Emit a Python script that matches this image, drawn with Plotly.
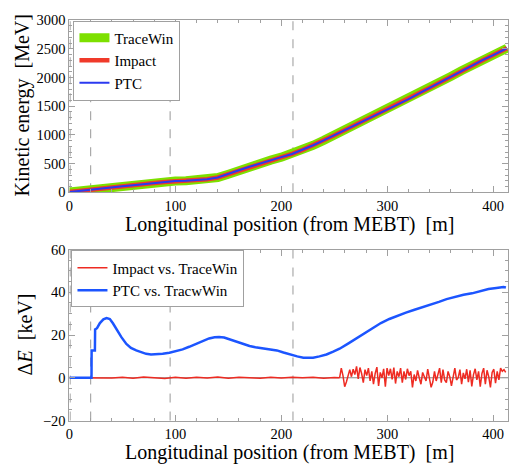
import plotly.graph_objects as go

# ---------------- data ----------------
# Top panel: kinetic energy [MeV] vs longitudinal position [m]
pos_energy = [0, 10, 20, 30, 40, 50, 60, 70, 80, 90, 100, 110, 120, 130, 140, 150,
              160, 170, 180, 190, 200, 210, 220, 230, 240, 250, 260, 270, 280, 290,
              300, 310, 320, 330, 340, 350, 360, 370, 380, 390, 400, 410, 413]
energy_tracewin = [3.6, 25, 50, 68, 85, 103, 121, 140, 160, 180, 195, 200, 208, 226, 258, 315,
                   383, 445, 505, 560, 612, 668, 740, 820, 905, 995, 1085, 1175, 1260, 1355,
                   1448, 1530, 1625, 1725, 1822, 1920, 2020, 2118, 2213, 2303, 2393, 2483, 2512]
energy_impact = list(energy_tracewin)
energy_ptc = list(energy_tracewin)

# Bottom panel: energy differences [keV]
pos_ptc = [0, 20.8, 20.9, 24.0, 24.2, 26, 28.7, 32, 35, 38.1, 41, 44.3, 49, 53.7, 58, 63,
           68, 72.4, 77, 81.8, 88, 94.3, 100, 106.8, 113, 119.3, 125, 131.8, 137, 141.2,
           146, 150.5, 157, 163, 170, 175.5, 185, 195.8, 202, 208, 215, 220.8, 230, 236,
           242.6, 249, 255, 263, 270.7, 278, 286.4, 294, 302, 310, 317.6, 325, 333.2,
           341, 348.8, 356, 364.4, 372, 380, 388, 395.6, 403, 409.7, 412]
de_ptc = [0, 0, 12.8, 12.8, 22.6, 23.2, 25.6, 27.3, 27.9, 27.5, 25.5, 22.6, 19.0, 15.8, 14.0, 12.8,
          11.8, 11.2, 10.9, 10.9, 11.2, 11.7, 12.4, 13.3, 14.5, 15.8, 17.2, 18.4, 19.0, 19.1,
          18.8, 18.0, 16.9, 15.8, 14.9, 14.3, 13.6, 12.8, 11.8, 10.9, 10.0, 9.4, 9.4, 10.0,
          10.9, 12.2, 13.6, 16.0, 18.4, 20.9, 23.4, 25.6, 27.5, 29.1, 30.5, 31.7, 32.9,
          34.2, 35.5, 36.8, 38.0, 38.8, 39.5, 40.5, 41.5, 42.0, 42.5, 42.2]

# Impact vs TraceWin: quiet part (explicit positions)
pos_impact_quiet = [0, 20, 30, 40, 50, 60, 70, 80, 90, 100, 110, 120, 130, 140, 150, 160, 170,
                    180, 190, 200, 210, 220, 230, 240, 250, 255]
de_impact_quiet = [0, 0, 0.2, -0.1, 0.3, -0.2, 0.4, 0.1, -0.3, 0.2, -0.2, 0.3, -0.1, 0.4, -0.2,
                   0.2, 0.1, -0.2, 0.3, -0.1, 0.2, 0.0, 0.3, -0.2, 0.1, 0.0]
# Impact vs TraceWin: noisy part, sampled every 1.6 m starting at 255 m
impact_noisy_start = 255.0
impact_noisy_step = 1.6
de_impact_noisy = [0.0, 4.5, 1.0, -4.2, -2.0, 1.5, 3.8, 0.5, 4.0, 1.5,
                   5.3, -0.5, 4.8, 2.0, -2.3, 3.8, 1.0, 4.5, -1.5, 3.0,
                   -3.0, 2.0, 5.0, -3.8, 2.5, 0.0, 4.2, -4.2, 4.5, 1.0,
                   4.2, -0.8, 4.8, -2.7, 3.0, 0.5, 4.5, -2.3, 3.0, -0.8,
                   4.2, 1.0, 3.0, -4.5, 1.5, -1.5, 3.5, 0.0, -3.0, 2.5,
                   0.3, -1.5, 4.0, 0.0, -4.5, -2.0, 3.0, -1.5, 2.0, 4.5,
                   -2.3, 3.8, -1.0, -2.3, 3.0, 0.5, -3.8, 0.0, 4.5, -1.0,
                   0.0, 3.8, -3.0, 2.3, -0.5, 4.0, -2.0, 3.5, -4.0, 1.5,
                   4.2, -1.0, 3.0, -4.2, 2.0, 4.5, -3.0, 3.5, 0.5, -4.5,
                   2.5, 4.0, -2.5, 3.0, -1.0, 4.5, 3.0, 3.8, 2.5]

section_marks = [0.6, 20, 95, 211]
x_ticks = [0, 100, 200, 300, 400]

# ---------------- figure ----------------
W, H = 510, 472
def px_x(p):
    return p / W
def px_y(p):
    return 1 - p / H

SERIF = "Liberation Serif, Times New Roman, serif"
FRAME = "#a0a0a0"

fig = go.Figure()

fig.add_trace(go.Scatter(x=pos_energy, y=energy_tracewin, mode="lines", name="TraceWin",
                         line=dict(color="#7de000", width=9), xaxis="x", yaxis="y",
                         legend="legend"))
fig.add_trace(go.Scatter(x=pos_energy, y=energy_impact, mode="lines", name="Impact",
                         line=dict(color="#f03a2a", width=4.5), xaxis="x", yaxis="y",
                         legend="legend"))
fig.add_trace(go.Scatter(x=pos_energy, y=energy_ptc, mode="lines", name="PTC",
                         line=dict(color="#2b3af0", width=2), xaxis="x", yaxis="y",
                         legend="legend"))

fig.add_trace(go.Scatter(x=pos_impact_quiet, y=de_impact_quiet, mode="lines",
                         name="Impact vs. TraceWin", legendgroup="imp",
                         line=dict(color="#ee2b22", width=1.5), xaxis="x2", yaxis="y2",
                         legend="legend2"))
fig.add_trace(go.Scatter(x0=impact_noisy_start, dx=impact_noisy_step, y=de_impact_noisy,
                         mode="lines", name="Impact vs. TraceWin", legendgroup="imp",
                         showlegend=False,
                         line=dict(color="#ee2b22", width=1.5), xaxis="x2", yaxis="y2",
                         legend="legend2"))
fig.add_trace(go.Scatter(x=pos_ptc, y=de_ptc, mode="lines", name="PTC vs. TracwWin",
                         line=dict(color="#1c55ff", width=2.5), xaxis="x2", yaxis="y2",
                         legend="legend2"))

xdom = [px_x(66), px_x(508)]
axis_common = dict(showline=True, linecolor=FRAME, linewidth=1, mirror="allticks",
                   ticks="inside", ticklen=6, tickcolor=FRAME, showgrid=False, zeroline=False,
                   tickfont=dict(family=SERIF, size=14.5, color="black"))

fig.update_layout(
    width=W, height=H, margin=dict(l=0, r=0, t=0, b=0),
    paper_bgcolor="white", plot_bgcolor="white",
    font=dict(family=SERIF, color="black"),
    xaxis=dict(domain=xdom, range=[0, 414], tickvals=x_ticks, anchor="y",
               minor=dict(dtick=20, tick0=0, ticks="inside", ticklen=3, tickcolor=FRAME),
               **axis_common),
    yaxis=dict(domain=[px_y(190.7), px_y(12.7)], range=[0, 3000], dtick=500, anchor="x",
               minor=dict(dtick=100, ticks="inside", ticklen=3, tickcolor=FRAME),
               **axis_common),
    xaxis2=dict(domain=xdom, range=[0, 414], tickvals=x_ticks, anchor="y2",
                minor=dict(dtick=20, tick0=0, ticks="inside", ticklen=3, tickcolor=FRAME),
                **axis_common),
    yaxis2=dict(domain=[px_y(427), px_y(250)], range=[-20, 60], dtick=20, anchor="x2",
                minor=dict(dtick=5, ticks="inside", ticklen=3, tickcolor=FRAME),
                **axis_common),
    legend=dict(x=px_x(70), y=px_y(13), xanchor="left", yanchor="top",
                bgcolor="white", bordercolor=FRAME, borderwidth=1,
                font=dict(family=SERIF, size=15, color="black"),
                itemwidth=30, tracegroupgap=0),
    legend2=dict(x=px_x(68), y=px_y(251), xanchor="left", yanchor="top",
                 bgcolor="white", bordercolor=FRAME, borderwidth=1,
                 font=dict(family=SERIF, size=15, color="black"),
                 itemwidth=30, tracegroupgap=0),
    showlegend=True,
)

# dashed section markers
for xv in section_marks:
    for xr, yr in (("x", "y domain"), ("x2", "y2 domain")):
        fig.add_shape(type="line", xref=xr, yref=yr, x0=xv, x1=xv, y0=0, y1=1,
                      line=dict(color="#999999", width=1, dash="dash"), layer="below")
# zero axis in bottom panel
fig.add_shape(type="line", xref="x2 domain", yref="y2", x0=0, x1=1, y0=0, y1=0,
              line=dict(color="#888888", width=1), layer="below")

# axis titles
title_font = dict(family=SERIF, size=20, color="black")
fig.add_annotation(text="Longitudinal position (from MEBT)  [m]", xref="paper", yref="paper",
                   x=px_x(288), y=px_y(224.5), xanchor="center", yanchor="middle",
                   showarrow=False, font=title_font)
fig.add_annotation(text="Longitudinal position (from MEBT)  [m]", xref="paper", yref="paper",
                   x=px_x(288), y=px_y(460), xanchor="center", yanchor="middle",
                   showarrow=False, font=title_font)
fig.add_annotation(text="Kinetic energy  [MeV]", xref="paper", yref="paper",
                   x=px_x(19), y=px_y(101), xanchor="center", yanchor="middle",
                   showarrow=False, textangle=-90, font=title_font)
fig.add_annotation(text="Δ<i>E</i>  [keV]", xref="paper", yref="paper",
                   x=px_x(21), y=px_y(338), xanchor="center", yanchor="middle",
                   showarrow=False, textangle=-90, font=title_font)

fig.write_html("out.html", config={"displayModeBar": False},
               post_script="document.body.style.margin='0';document.body.style.padding='0';"
                           "document.documentElement.style.overflow='hidden';")
